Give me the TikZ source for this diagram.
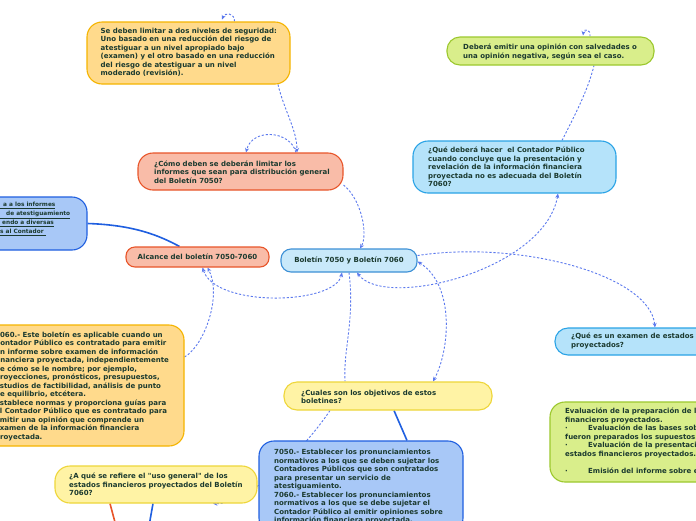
\documentclass[tikz,border=0pt]{standalone}
\usepackage{fontspec}
\setmainfont{DejaVu Sans}[Ligatures=TeXOff]
\usetikzlibrary{arrows.meta}
\definecolor{txt}{HTML}{1B3A2F}
\definecolor{goldF}{HTML}{FFDA8C}
\definecolor{goldD}{HTML}{F5B400}
\definecolor{salF}{HTML}{F9BCA8}
\definecolor{salD}{HTML}{E8552A}
\definecolor{bluF}{HTML}{A8C8F7}
\definecolor{bluD}{HTML}{1F5FE0}
\definecolor{skyF}{HTML}{B5E3FA}
\definecolor{skyD}{HTML}{2AA3E6}
\definecolor{cenF}{HTML}{C9E9FA}
\definecolor{cenD}{HTML}{3D90D6}
\definecolor{limF}{HTML}{D9EE8B}
\definecolor{limD}{HTML}{9CC82E}
\definecolor{yelF}{HTML}{FFF3A5}
\definecolor{yelD}{HTML}{EED63A}
\definecolor{relC}{HTML}{5B79EE}
\pgfdeclarelayer{bg}
\pgfsetlayers{bg,main}
\tikzset{
  boxs/.style={rectangle, line width=1.1pt, inner sep=0pt},
  txtn/.style={anchor=west, inner sep=0pt, align=left, text=txt, font=\fontsize{7}{8.5}\selectfont\bfseries},
  relline/.style={draw=relC, line width=0.9pt, dash pattern=on 2.2pt off 1.8pt},
  solidlink/.style={line width=1.6pt},
  arrowend/.style={-{Stealth[length=4.5pt,width=4pt]}},
  arrowboth/.style={{Stealth[length=4.5pt,width=4pt]}-{Stealth[length=4.5pt,width=4pt]}},
}
\begin{document}
\begin{tikzpicture}[x=1pt,y=-1pt]
\useasboundingbox (0,0) rectangle (696,520);
\begin{pgfonlayer}{bg}
\fill[white] (0,0) rectangle (696,520);
\end{pgfonlayer}
\clip (0,0) rectangle (696,520);

% boxes
\node[boxs, rounded corners=15pt, fill=goldF, draw=goldD, minimum width=203pt, minimum height=62pt] (gold1) at (188.5,53) {};
\node[txtn] (gold1t) at (100.5,52.5) {Se deben limitar a dos niveles de seguridad:\\Uno basado en una reducción del riesgo de\\atestiguar a un nivel apropiado bajo\\(examen) y el otro basado en una reducción\\del riesgo de atestiguar a un nivel\\moderado (revisión).};

\node[boxs, rounded corners=15pt, fill=salF, draw=salD, minimum width=205pt, minimum height=37pt] (como) at (240.5,171.5) {};
\node[txtn] (comot) at (154,172) {¿Cómo deben se deberán limitar los\\informes que sean para distribución general\\del Boletín 7050?};

\node[boxs, rounded corners=15pt, fill=bluF, draw=bluD, minimum width=127pt, minimum height=53pt] (bleft) at (23.5,223.5) {};
\node[txtn, font=\fontsize{5.8}{8.8}\selectfont\bfseries] (bleftt) at (0,219) {\underline{\hspace{3pt}a a los informes}\\\underline{\hspace{6pt}de atestiguamiento}\\\underline{\hspace{2pt}endo a diversas}\\\underline{s al Contador\ }};

\node[boxs, rounded corners=9pt, fill=salF, draw=salD, minimum width=143pt, minimum height=20pt, text=txt, font=\fontsize{7}{8.5}\selectfont\bfseries] (alc) at (197.5,257) {Alcance del boletín 7050-7060};

\node[boxs, rounded corners=10pt, fill=cenF, draw=cenD, minimum width=136pt, minimum height=23pt, text=txt, font=\fontsize{7}{8.5}\selectfont\bfseries] (cen) at (349,260.5) {Boletín 7050 y Boletín 7060};

\node[boxs, rounded corners=13pt, fill=limF, draw=limD, minimum width=207pt, minimum height=28pt] (lime1) at (550.5,51) {};
\node[txtn] (lime1t) at (463,52) {Deberá emitir una opinión con salvedades o\\una opinión negativa, según sea el caso.};

\node[boxs, rounded corners=15pt, fill=skyF, draw=skyD, minimum width=203pt, minimum height=52pt] (qdh) at (514.5,167) {};
\node[txtn] (qdht) at (428,167) {¿Qué deberá hacer\ \ el Contador Público\\cuando concluye que la presentación y\\revelación de la información financiera\\proyectada no es adecuada del Boletín\\7060?};

\node[boxs, rounded corners=13pt, fill=skyF, draw=skyD, minimum width=205pt, minimum height=27pt] (exam) at (657.5,341.5) {};
\node[txtn] (examt) at (571,341) {¿Qué es un examen de estados financieros\\proyectados?};

\node[boxs, rounded corners=15pt, fill=limF, draw=limD, minimum width=210pt, minimum height=80pt] (lime2) at (655,442) {};
\node[txtn] (lime2t) at (565,440.5) {Evaluación de la preparación de los estados\\financieros proyectados.\\\makebox[23pt][l]{·}Evaluación de las bases sobre las cuales\\fueron preparados los supuestos.\\\makebox[23pt][l]{·}Evaluación de la presentación de los\\estados financieros proyectados.\\\mbox{}\\\makebox[23pt][l]{·}Emisión del informe sobre el examen};

\node[boxs, rounded corners=13pt, fill=yelF, draw=yelD, minimum width=208pt, minimum height=28pt] (cual) at (388,396) {};
\node[txtn] (cualt) at (301,397) {¿Cuales son los objetivos de estos\\boletines?};

\node[boxs, rounded corners=15pt, fill=bluF, draw=bluD, minimum width=204pt, minimum height=92pt] (bbot) at (361,487) {};
\node[txtn] (bbott) at (274,487) {7050.- Establecer los pronunciamientos\\normativos a los que se deben sujetar los\\Contadores Públicos que son contratados\\para presentar un servicio de\\atestiguamiento.\\7060.- Establecer los pronunciamientos\\normativos a los que se debe sujetar el\\Contador Público al emitir opiniones sobre\\información financiera proyectada.};

\node[boxs, rounded corners=15pt, fill=yelF, draw=yelD, minimum width=202pt, minimum height=37pt] (uso) at (156,484.5) {};
\node[txtn] (usot) at (69,484.5) {¿A qué se refiere el "uso general" de los\\estados financieros proyectados del Boletín\\7060?};

\node[boxs, rounded corners=15pt, fill=goldF, draw=goldD, minimum width=214pt, minimum height=121pt] (gold2) at (77,385.5) {};
\node[txtn] (gold2t) at (-5,386) {7060.- Este boletín es aplicable cuando un\\Contador Público es contratado para emitir\\un informe sobre examen de información\\financiera proyectada, independientemente\\de cómo se le nombre; por ejemplo,\\proyecciones, pronósticos, presupuestos,\\estudios de factibilidad, análisis de punto\\de equilibrio, etcétera.\\Establece normas y proporciona guías para\\el Contador Público que es contratado para\\emitir una opinión que comprende un\\examen de la información financiera\\proyectada.};

\coordinate (curlA) at (222,19.5);
\coordinate (curlB) at (583,35.5);
\coordinate (offA) at (116,526);
\coordinate (offB) at (149,526);

\begin{pgfonlayer}{bg}
% solid links
\draw[solidlink, draw=bluD] (bleft.east) .. controls (135,225) and (160,236) .. ([xshift=-18pt]alc.north);
\draw[solidlink, draw=bluD] ([xshift=6pt]cual.south) -- ([xshift=46pt]bbot.north);
\draw[solidlink, draw=salD] ([xshift=-46pt]uso.south) -- (offA);
\draw[solidlink, draw=bluD] ([xshift=-3pt]uso.south) -- (offB);
% dashed relations
\draw[relline, arrowend] ([xshift=89.5pt]gold1.south) .. controls (284,110) and (297,130) .. ([xshift=56.5pt]como.north);
\draw[relline, arrowend] ([xshift=55.5pt]como.north) .. controls (290,130) and (252,128) .. ([xshift=5.5pt]como.north);
\draw[relline, arrowend] ([xshift=46pt]gold1.north) .. controls (235,13) and (225,12) .. (curlA);
\draw[relline, arrowend] ([yshift=-13.5pt]como.east) .. controls (362,200) and (368,235) .. ([xshift=11pt]cen.north);
\draw[relline, arrowend] ([yshift=28.5pt]gold2.east) .. controls (205,345) and (222,295) .. ([xshift=10pt]alc.south);
\draw[relline, arrowboth] ([xshift=-7pt]cen.south) .. controls (335,305) and (215,308) .. ([xshift=5pt]alc.south);
\draw[relline, arrowboth] ([xshift=8pt]cen.south) .. controls (385,310) and (545,270) .. ([xshift=43.5pt]qdh.south);
\draw[relline] (cen.south) .. controls (355,320) and (343,350) .. ([xshift=-43pt]cual.north);
\draw[relline, arrowboth] ([yshift=-1pt]cen.east) .. controls (455,285) and (450,350) .. ([xshift=45pt]cual.north);
\draw[relline, arrowend] ([yshift=5pt]cen.east) .. controls (520,240) and (650,275) .. ([xshift=-2.5pt]exam.north);
\draw[relline] ([xshift=47.5pt]qdh.north) .. controls (575,115) and (588,90) .. ([xshift=43.5pt]lime1.south);
\draw[relline, arrowend] ([xshift=39.5pt]lime1.north) .. controls (591,29) and (584,28) .. (curlB);
\draw[relline, arrowend] ([xshift=-58pt]cual.south) .. controls (300,455) and (245,505) .. ([xshift=57pt]uso.south);
\end{pgfonlayer}
\end{tikzpicture}
\end{document}
